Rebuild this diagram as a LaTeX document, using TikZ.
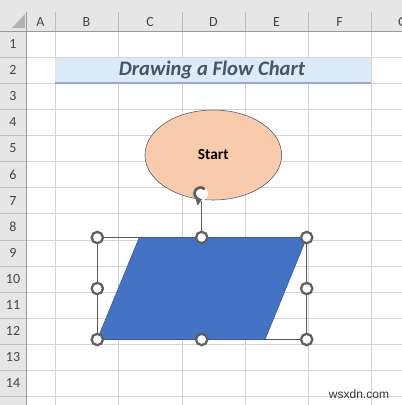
\documentclass[tikz,border=0pt]{standalone}
\usepackage{fontspec}
\setmainfont{Carlito}
\newfontfamily\markfont{Liberation Sans}
\usetikzlibrary{shapes.geometric,arrows.meta}
\definecolor{hdrfill}{HTML}{E6E6E6}
\definecolor{hdrline}{HTML}{BDBDBD}
\definecolor{hdrtext}{HTML}{444444}
\definecolor{gridline}{HTML}{D4D4D4}
\definecolor{titlefill}{HTML}{DDEBF7}
\definecolor{titleline}{HTML}{8EA9DB}
\definecolor{titletext}{HTML}{44546A}
\definecolor{peach}{HTML}{F8CBAD}
\definecolor{shapeblue}{HTML}{4472C4}
\definecolor{handlegray}{HTML}{606060}
\tikzset{
 hdrlabel/.style={text=hdrtext, font=\fontsize{10.5}{12}\selectfont, inner sep=0pt},
 handle/.style={circle, draw=handlegray, fill=white, line width=1.7pt, minimum size=8.5pt, inner sep=0pt},
 }

\begin{document}
\begin{tikzpicture}[x=0.75pt, y=-0.75pt]
        \clip (0,0) rectangle (402,405);
        \fill[white] (0,0) rectangle (402,405);
        % headers
        \fill[hdrfill] (0,0) rectangle (402,31);
        \fill[hdrfill] (0,31) rectangle (26,405);
        \fill[black!30] (25,14) -- (25,28) -- (12,28) -- cycle;
        \foreach \x in {55, 118, 182, 245, 308, 371} {
            \draw[gridline] (\x, 31) -- (\x, 405);
            \draw[hdrline] (\x, 12) -- (\x, 31);
        }
        \foreach \k in {1,...,14} {
            \draw[gridline] (26, 31+26.1*\k) -- (402, 31+26.1*\k);
            \draw[hdrline] (0, 31+26.1*\k) -- (26, 31+26.1*\k);
        }
        \draw[black!40] (0, 31) -- (402, 31);
        \draw[black!40] (26, 12) -- (26, 405);
        \foreach \c/\x in {A/40.5, B/86.5, C/150, D/213.5, E/276.5, F/339.5, G/402.5}
            \node[hdrlabel] (col\c) at (\x, 22) {\c};
        \foreach \r in {1,...,14}
            \node[hdrlabel] (row\r) at (13, 31+26.1*\r-13.05) {\r};

        % title
        \fill[titlefill] (55, 58) rectangle (371, 82);
        \draw[titleline, line width=2pt] (55, 83) -- (371, 83);
        \node[text=titletext, font=\fontsize{15.5}{18}\selectfont\bfseries\itshape] (title) at (212, 70) {Drawing a Flow Chart};

        % start
        \node[ellipse, draw=titletext, fill=peach, minimum width=102.5pt, minimum height=67.5pt, inner sep=0pt,
            font=\fontsize{11.5}{13}\selectfont\bfseries] (start) at (213.3, 155) {Start};

        % selected parallelogram
        \draw[black!65] (97.3, 237.5) rectangle (306.7, 339.5);
        \fill[shapeblue] (139.3, 237.5) -- (306.7, 237.5) -- (265, 339.5) -- (97.3, 339.5) -- cycle;
        \draw[shapeblue!80!black, line width=0.5pt] (139.3, 237.5) -- (306.7, 237.5) -- (265, 339.5) -- (97.3, 339.5) -- cycle;
        \node[circle, minimum size=14pt, inner sep=0pt] (rot) at (200.5, 193.5) {};
        \node[handle] (hnw) at (97.3, 237.5) {};
        \node[handle] (hn) at (201.7, 237.5) {};
        \node[handle] (hne) at (306.7, 237.5) {};
        \node[handle] (hw) at (97.3, 288.5) {};
        \node[handle] (he) at (306.7, 288.5) {};
        \node[handle] (hsw) at (97.3, 339.5) {};
        \node[handle] (hs) at (201.7, 339.5) {};
        \node[handle] (hse) at (306.7, 339.5) {};
        \draw[handlegray, line width=0.8pt] (rot.center) ++(1.2,7) -- (hn);
        \begin{scope}[shift={(rot.center)}, yscale=-1]
            \fill[white] (0,0) circle (7.5);
            \draw[handlegray, line width=2.1pt, -{Triangle[length=4.5pt, width=7pt]}] (45:6) arc (45:285:6);
        \end{scope}

        \node[text=black!80, font=\markfont\fontsize{9}{11}\selectfont, inner sep=0pt] (mark) at (359, 394) {wsxdn.com};
    \end{tikzpicture}
\end{document}
